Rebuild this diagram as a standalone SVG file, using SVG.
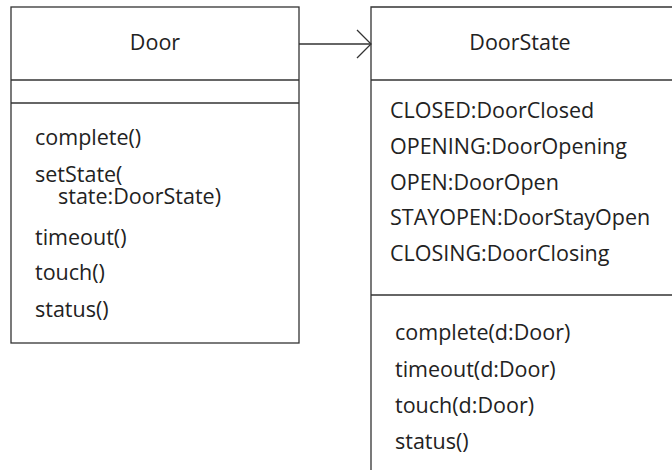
<svg xmlns="http://www.w3.org/2000/svg" width="672" height="470" viewBox="0 0 672 470">
<style>
.box{fill:#fff;stroke:#333;stroke-width:1.3}
.ln{stroke:#333;stroke-width:1.3;fill:none}
text{font-family:"Open Sans","Noto Sans",sans-serif;font-size:21.5px;fill:#222}
.c{text-anchor:middle}
</style>
<defs>
<marker id="open" markerWidth="16" markerHeight="30" refX="15" refY="15" orient="auto" markerUnits="userSpaceOnUse">
<path d="M1,1 L15,15 L1,29" fill="none" stroke="#333" stroke-width="1.3"/>
</marker>
</defs>
<g id="connectors">
<line class="ln" x1="299" y1="44" x2="371" y2="44" marker-end="url(#open)"/>
</g>
<g id="door">
<rect class="box" x="11" y="7" width="288" height="336"/>
<line class="ln" x1="11" y1="80" x2="299" y2="80"/>
<line class="ln" x1="11" y1="103" x2="299" y2="103"/>
<text class="c" x="155" y="50">Door</text>
<text x="35" y="145">complete()</text>
<text x="35" y="182">setState(<tspan x="58" y="204">state:DoorState)</tspan></text>
<text x="35" y="245">timeout()</text>
<text x="35" y="280">touch()</text>
<text x="35" y="317">status()</text>
</g>
<g id="doorstate">
<path class="ln" d="M371,471 L371,7 L673,7"/>
<line class="ln" x1="371" y1="80" x2="673" y2="80"/>
<line class="ln" x1="371" y1="295" x2="673" y2="295"/>
<text class="c" x="520" y="50">DoorState</text>
<text x="390" y="118">CLOSED:DoorClosed</text>
<text x="390" y="154">OPENING:DoorOpening</text>
<text x="390" y="190">OPEN:DoorOpen</text>
<text x="390" y="225">STAYOPEN:DoorStayOpen</text>
<text x="390" y="261">CLOSING:DoorClosing</text>
<text x="395" y="340">complete(d:Door)</text>
<text x="395" y="377">timeout(d:Door)</text>
<text x="395" y="413">touch(d:Door)</text>
<text x="395" y="449">status()</text>
</g>
</svg>
